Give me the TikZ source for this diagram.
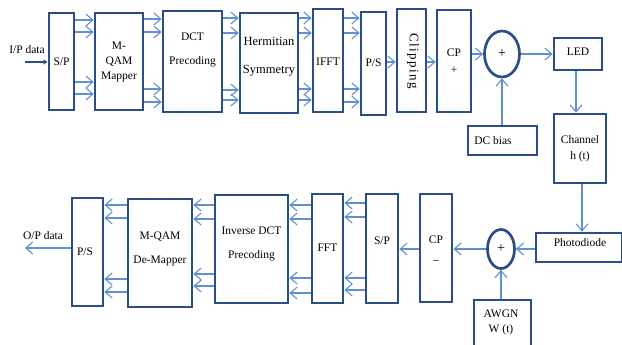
\documentclass[tikz,border=0pt]{standalone}
\usepackage{fontspec}
\setmainfont{Liberation Serif}
\usetikzlibrary{arrows.meta,shapes.geometric}
\definecolor{boxc}{RGB}{44,78,134}
\definecolor{arrc}{RGB}{96,145,206}
\tikzset{
  box/.style={draw=boxc, line width=2.7pt, inner sep=0pt, rectangle},
  sumc/.style={draw=boxc, line width=2.7pt, inner sep=0pt, ellipse},
  arr/.style={draw=arrc, line width=1.2pt, -{Straight Barb[length=7pt,width=12pt,line width=1.1pt]}},
  inarr/.style={draw=boxc, line width=1.8pt, -{Latex[length=4pt,width=6pt]}},
  txt/.style={inner sep=0pt, align=center, font=\fontsize{11.5}{15}\selectfont},
}
\begin{document}
\begin{tikzpicture}[x=1pt,y=-1pt]
\useasboundingbox (0,0) rectangle (622,345);
% top row boxes
\node[box, minimum width=25pt, minimum height=97pt] (sp1) at (61.5,61.5) {};
\node[box, minimum width=48pt, minimum height=97pt] (map) at (119,61.5) {};
\node[box, minimum width=59pt, minimum height=101pt] (dct) at (192.5,61.5) {};
\node[box, minimum width=58pt, minimum height=100pt] (her) at (269,63) {};
\node[box, minimum width=30pt, minimum height=103pt] (ifft) at (328,60.5) {};
\node[box, minimum width=25pt, minimum height=103pt] (ps1) at (373.5,63.5) {};
\node[box, minimum width=29pt, minimum height=103pt] (clip) at (411.5,60.5) {};
\node[box, minimum width=34pt, minimum height=102pt] (cpp) at (454,61) {};
\node[sumc, minimum width=35pt, minimum height=46pt] (sum1) at (502,54) {};
\node[box, minimum width=48pt, minimum height=32pt] (led) at (578,54) {};
\node[box, minimum width=69pt, minimum height=29pt] (dc) at (502.5,140.5) {};
\node[box, minimum width=52pt, minimum height=69pt] (ch) at (580,148.5) {};
\node[box, minimum width=86pt, minimum height=29pt] (pd) at (579,247.5) {};
\node[sumc, minimum width=27pt, minimum height=39pt] (sum2) at (501,249) {};
\node[box, minimum width=57pt, minimum height=50pt] (awgn) at (502.5,325) {};
\node[box, minimum width=32pt, minimum height=108pt] (cpm) at (436,248) {};
\node[box, minimum width=32pt, minimum height=109pt] (sp2) at (382,248.5) {};
\node[box, minimum width=31pt, minimum height=109pt] (fft) at (327.5,248.5) {};
\node[box, minimum width=73pt, minimum height=108pt] (idct) at (251.5,249) {};
\node[box, minimum width=64pt, minimum height=108pt] (dmap) at (160,253) {};
\node[box, minimum width=31pt, minimum height=108pt] (ps2) at (87.5,252) {};
% texts
\node[txt] (tip) at (27,50) {I/P data};
\node[txt] (tsp1) at (61.5,62) {S/P};
\node[txt] (tmap) at (119,62) {M-\\QAM\\Mapper};
\node[txt, font=\fontsize{11.5}{24}\selectfont] (tdct) at (192.5,50) {DCT\\Precoding};
\node[txt, font=\fontsize{12.5}{28}\selectfont] (ther) at (269,57) {Hermitian\\Symmetry};
\node[txt] (tifft) at (328,62) {IFFT};
\node[txt] (tps1) at (373.5,63) {P/S};
\node[txt, rotate=-90, font=\fontsize{13}{15}\selectfont\addfontfeature{LetterSpace=11}] (tclip) at (413,61) {Clipping};
\node[txt] (tcp1) at (454,53) {CP};
\node[txt] (tplus1) at (454,70) {+};
\node[txt, font=\fontsize{14}{15}\selectfont] (tsum1) at (502,54) {+};
\node[txt] (tled) at (578,52) {LED};
\node[txt] (tdc) at (493,141) {DC bias};
\node[txt, font=\fontsize{11.5}{16}\selectfont] (tch) at (580,149) {Channel\\h (t)};
\node[txt] (tpd) at (580,243) {Photodiode};
\node[txt, font=\fontsize{14}{15}\selectfont] (tsum2) at (501,249) {+};
\node[txt] (tawgn) at (501,322) {AWGN\\W (t)};
\node[txt] (tcp2) at (436,240) {CP};
\node[txt] (tminus) at (436,262) {--};
\node[txt] (tsp2) at (382,241) {S/P};
\node[txt] (tfft) at (327.5,248) {FFT};
\node[txt, font=\fontsize{11.5}{24}\selectfont] (tidct) at (251.5,244) {Inverse DCT\\Precoding};
\node[txt, font=\fontsize{11.5}{24}\selectfont] (tdmap) at (160,249) {M-QAM\\De-Mapper};
\node[txt] (tps2) at (85,252) {P/S};
\node[txt] (top) at (43,236) {O/P data};
% connectors
\coordinate (ipstart) at (25,62);
\draw[inarr] (ipstart) -- (sp1.west |- ipstart);
\foreach \y in {20,32,82,94} \draw[arr] (sp1.east |- 0,\y) -- (map.west |- 0,\y);
\foreach \y in {19,32,89,102} \draw[arr] (map.east |- 0,\y) -- (dct.west |- 0,\y);
\foreach \y in {18,33,90,100} \draw[arr] (dct.east |- 0,\y) -- (her.west |- 0,\y);
\foreach \y in {18,33,89,100} \draw[arr] (her.east |- 0,\y) -- (ifft.west |- 0,\y);
\foreach \y in {18,33,89,102} \draw[arr] (ifft.east |- 0,\y) -- (ps1.west |- 0,\y);
\draw[arr] (ps1.east |- 0,62) -- (clip.west |- 0,62);
\draw[arr] (clip.east |- 0,62) -- (cpp.west |- 0,62);
\draw[arr] (cpp.east |- sum1.west) -- (sum1.west);
\draw[arr] (sum1.east) -- (led.west |- sum1.east);
\draw[arr] (dc.north -| sum1.south) -- (sum1.south);
\draw[arr] (led.south -| 576,0) -- (ch.north -| 576,0);
\draw[arr] (ch.south -| 582,0) -- (pd.north -| 582,0);
\draw[arr] (pd.west |- sum2.east) -- (sum2.east);
\draw[arr] (awgn.north -| sum2.south) -- (sum2.south);
\draw[arr] (sum2.west) -- (cpm.east |- sum2.west);
\draw[arr] (cpm.west |- 0,249) -- (sp2.east |- 0,249);
\foreach \y in {203,217,278,290} \draw[arr] (sp2.west |- 0,\y) -- (fft.east |- 0,\y);
\foreach \y in {205,219,278,293} \draw[arr] (fft.west |- 0,\y) -- (idct.east |- 0,\y);
\foreach \y in {205,219,274,286} \draw[arr] (idct.west |- 0,\y) -- (dmap.east |- 0,\y);
\foreach \y in {205,218,279,292} \draw[arr] (dmap.west |- 0,\y) -- (ps2.east |- 0,\y);
\coordinate (opend) at (25,248);
\draw[arr] (ps2.west |- opend) -- (opend);
\end{tikzpicture}
\end{document}
